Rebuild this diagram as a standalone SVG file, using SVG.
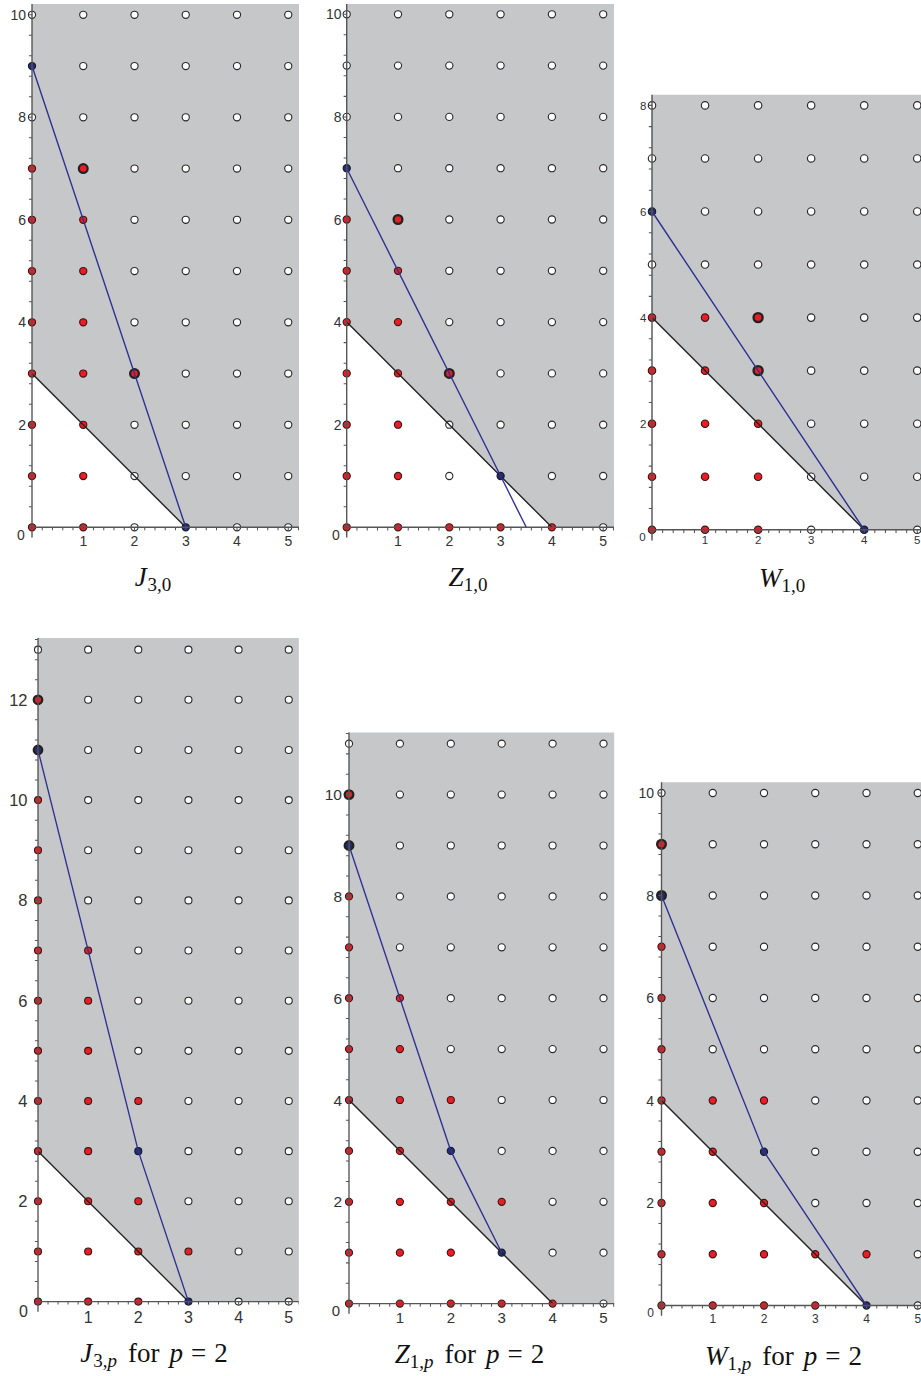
<svg xmlns="http://www.w3.org/2000/svg" width="921" height="1376" viewBox="0 0 921 1376">
<style>
.g{fill:#c6c7c9}
.w{fill:#fff;stroke:#2b2b2b;stroke-width:.022}
.r{fill:#ec1c24;stroke:#3a1616;stroke-width:.022}
.b{fill:#262d6e;stroke:#161a30;stroke-width:.022}
.rb{fill:#ec1c24;stroke:#222;stroke-width:.045}
.bb{fill:#262d6e;stroke:#222;stroke-width:.045}
.k{stroke:#222;stroke-width:.027;fill:none}
.bl{stroke:#2e3192;stroke-width:.027;fill:none}
.ax{stroke:#555;stroke-width:.027;fill:none}
.ty{stroke:#555;fill:none;stroke-width:.06;stroke-dasharray:.02 .38;stroke-dashoffset:.01}
.tx{stroke:#555;fill:none;stroke-width:.06;stroke-dasharray:.02 .18;stroke-dashoffset:.01}
.lb{font-family:"Liberation Sans",Arial,sans-serif;fill:#333}
.cap{font-family:"Liberation Serif","Times New Roman",serif;font-size:27px;fill:#111}
.it{font-style:italic}
</style>
<rect width="921" height="1376" fill="#fff"/>

<!-- Panel 1: J_{3,0} -->
<g id="panel-J30">
<g transform="translate(32 527.3) scale(51.25 -51.25)">
<polygon class="g" points="0,3 3,0 5.21,0 5.21,10.21 0,10.21"/>
<g id="dots-J30">
<circle class="w" cx="0" cy="10" r=".07"/><circle class="b" cx="0" cy="9" r=".07"/><circle class="w" cx="0" cy="8" r=".07"/><circle class="r" cx="0" cy="7" r=".07"/><circle class="r" cx="0" cy="6" r=".07"/><circle class="r" cx="0" cy="5" r=".07"/><circle class="r" cx="0" cy="4" r=".07"/><circle class="r" cx="0" cy="3" r=".07"/><circle class="r" cx="0" cy="2" r=".07"/><circle class="r" cx="0" cy="1" r=".07"/><circle class="r" cx="0" cy="0" r=".07"/>
<circle class="w" cx="1" cy="10" r=".07"/><circle class="w" cx="1" cy="9" r=".07"/><circle class="w" cx="1" cy="8" r=".07"/><circle class="rb" cx="1" cy="7" r=".085"/><circle class="r" cx="1" cy="6" r=".07"/><circle class="r" cx="1" cy="5" r=".07"/><circle class="r" cx="1" cy="4" r=".07"/><circle class="r" cx="1" cy="3" r=".07"/><circle class="r" cx="1" cy="2" r=".07"/><circle class="r" cx="1" cy="1" r=".07"/><circle class="r" cx="1" cy="0" r=".07"/>
<circle class="w" cx="2" cy="10" r=".07"/><circle class="w" cx="2" cy="9" r=".07"/><circle class="w" cx="2" cy="8" r=".07"/><circle class="w" cx="2" cy="7" r=".07"/><circle class="w" cx="2" cy="6" r=".07"/><circle class="w" cx="2" cy="5" r=".07"/><circle class="w" cx="2" cy="4" r=".07"/><circle class="rb" cx="2" cy="3" r=".085"/><circle class="w" cx="2" cy="2" r=".07"/><circle class="w" cx="2" cy="1" r=".07"/><circle class="w" cx="2" cy="0" r=".07"/>
<circle class="w" cx="3" cy="10" r=".07"/><circle class="w" cx="3" cy="9" r=".07"/><circle class="w" cx="3" cy="8" r=".07"/><circle class="w" cx="3" cy="7" r=".07"/><circle class="w" cx="3" cy="6" r=".07"/><circle class="w" cx="3" cy="5" r=".07"/><circle class="w" cx="3" cy="4" r=".07"/><circle class="w" cx="3" cy="3" r=".07"/><circle class="w" cx="3" cy="2" r=".07"/><circle class="w" cx="3" cy="1" r=".07"/><circle class="b" cx="3" cy="0" r=".07"/>
<circle class="w" cx="4" cy="10" r=".07"/><circle class="w" cx="4" cy="9" r=".07"/><circle class="w" cx="4" cy="8" r=".07"/><circle class="w" cx="4" cy="7" r=".07"/><circle class="w" cx="4" cy="6" r=".07"/><circle class="w" cx="4" cy="5" r=".07"/><circle class="w" cx="4" cy="4" r=".07"/><circle class="w" cx="4" cy="3" r=".07"/><circle class="w" cx="4" cy="2" r=".07"/><circle class="w" cx="4" cy="1" r=".07"/><circle class="w" cx="4" cy="0" r=".07"/>
<circle class="w" cx="5" cy="10" r=".07"/><circle class="w" cx="5" cy="9" r=".07"/><circle class="w" cx="5" cy="8" r=".07"/><circle class="w" cx="5" cy="7" r=".07"/><circle class="w" cx="5" cy="6" r=".07"/><circle class="w" cx="5" cy="5" r=".07"/><circle class="w" cx="5" cy="4" r=".07"/><circle class="w" cx="5" cy="3" r=".07"/><circle class="w" cx="5" cy="2" r=".07"/><circle class="w" cx="5" cy="1" r=".07"/><circle class="w" cx="5" cy="0" r=".07"/>
</g>
<g id="lines-J30">
<line class="k" x1="0" y1="3" x2="3" y2="0"/>
<line class="bl" x1="0" y1="9" x2="3" y2="0"/>
</g>
<line class="ax" x1="0" y1="-0.2" x2="0" y2="10.21"/>
<line class="ax" x1="-0.06" y1="0" x2="5.21" y2="0"/>
<line class="ty" x1="-0.03" y1="0" x2="-0.03" y2="10.21"/>
<line class="tx" x1="0" y1="-0.03" x2="5.21" y2="-0.03"/>
</g>
<g class="lb" font-size="14" text-anchor="end">
<text x="26" y="20">10</text><text x="26" y="122.4">8</text><text x="26" y="224.9">6</text><text x="26" y="327.4">4</text><text x="26" y="429.9">2</text>
</g>
<g class="lb" font-size="14" text-anchor="middle">
<text x="21" y="539.5">0</text><text x="83.3" y="545.5">1</text><text x="134.5" y="545.5">2</text><text x="185.8" y="545.5">3</text><text x="237" y="545.5">4</text><text x="288.3" y="545.5">5</text>
</g>
<text class="cap" x="153" y="586" text-anchor="middle"><tspan class="it">J</tspan><tspan font-size="19" dy="5" dx="1">3,0</tspan></text>
</g>

<!-- Panel 2: Z_{1,0} -->
<g id="panel-Z10">
<g transform="translate(346.7 527.3) scale(51.3 -51.3)">
<polygon class="g" points="0,4 4,0 5.21,0 5.21,10.2 0,10.2"/>
<g id="dots-Z10">
<circle class="w" cx="0" cy="10" r=".07"/><circle class="w" cx="0" cy="9" r=".07"/><circle class="w" cx="0" cy="8" r=".07"/><circle class="b" cx="0" cy="7" r=".07"/><circle class="r" cx="0" cy="6" r=".07"/><circle class="r" cx="0" cy="5" r=".07"/><circle class="r" cx="0" cy="4" r=".07"/><circle class="r" cx="0" cy="3" r=".07"/><circle class="r" cx="0" cy="2" r=".07"/><circle class="r" cx="0" cy="1" r=".07"/><circle class="r" cx="0" cy="0" r=".07"/>
<circle class="w" cx="1" cy="10" r=".07"/><circle class="w" cx="1" cy="9" r=".07"/><circle class="w" cx="1" cy="8" r=".07"/><circle class="w" cx="1" cy="7" r=".07"/><circle class="rb" cx="1" cy="6" r=".085"/><circle class="r" cx="1" cy="5" r=".07"/><circle class="r" cx="1" cy="4" r=".07"/><circle class="r" cx="1" cy="3" r=".07"/><circle class="r" cx="1" cy="2" r=".07"/><circle class="r" cx="1" cy="1" r=".07"/><circle class="r" cx="1" cy="0" r=".07"/>
<circle class="w" cx="2" cy="10" r=".07"/><circle class="w" cx="2" cy="9" r=".07"/><circle class="w" cx="2" cy="8" r=".07"/><circle class="w" cx="2" cy="7" r=".07"/><circle class="w" cx="2" cy="6" r=".07"/><circle class="w" cx="2" cy="5" r=".07"/><circle class="w" cx="2" cy="4" r=".07"/><circle class="rb" cx="2" cy="3" r=".085"/><circle class="w" cx="2" cy="2" r=".07"/><circle class="w" cx="2" cy="1" r=".07"/><circle class="r" cx="2" cy="0" r=".07"/>
<circle class="w" cx="3" cy="10" r=".07"/><circle class="w" cx="3" cy="9" r=".07"/><circle class="w" cx="3" cy="8" r=".07"/><circle class="w" cx="3" cy="7" r=".07"/><circle class="w" cx="3" cy="6" r=".07"/><circle class="w" cx="3" cy="5" r=".07"/><circle class="w" cx="3" cy="4" r=".07"/><circle class="w" cx="3" cy="3" r=".07"/><circle class="w" cx="3" cy="2" r=".07"/><circle class="b" cx="3" cy="1" r=".07"/><circle class="r" cx="3" cy="0" r=".07"/>
<circle class="w" cx="4" cy="10" r=".07"/><circle class="w" cx="4" cy="9" r=".07"/><circle class="w" cx="4" cy="8" r=".07"/><circle class="w" cx="4" cy="7" r=".07"/><circle class="w" cx="4" cy="6" r=".07"/><circle class="w" cx="4" cy="5" r=".07"/><circle class="w" cx="4" cy="4" r=".07"/><circle class="w" cx="4" cy="3" r=".07"/><circle class="w" cx="4" cy="2" r=".07"/><circle class="w" cx="4" cy="1" r=".07"/><circle class="r" cx="4" cy="0" r=".07"/>
<circle class="w" cx="5" cy="10" r=".07"/><circle class="w" cx="5" cy="9" r=".07"/><circle class="w" cx="5" cy="8" r=".07"/><circle class="w" cx="5" cy="7" r=".07"/><circle class="w" cx="5" cy="6" r=".07"/><circle class="w" cx="5" cy="5" r=".07"/><circle class="w" cx="5" cy="4" r=".07"/><circle class="w" cx="5" cy="3" r=".07"/><circle class="w" cx="5" cy="2" r=".07"/><circle class="w" cx="5" cy="1" r=".07"/><circle class="w" cx="5" cy="0" r=".07"/>
</g>
<g id="lines-Z10">
<line class="k" x1="0" y1="4" x2="4" y2="0"/>
<line class="bl" x1="0" y1="7" x2="3.5" y2="0"/>
</g>
<line class="ax" x1="0" y1="-0.2" x2="0" y2="10.2"/>
<line class="ax" x1="-0.06" y1="0" x2="5.21" y2="0"/>
<line class="ty" x1="-0.03" y1="0" x2="-0.03" y2="10.2"/>
<line class="tx" x1="0" y1="-0.03" x2="5.21" y2="-0.03"/>
</g>
<g class="lb" font-size="14" text-anchor="end">
<text x="341.5" y="19.3">10</text><text x="341.5" y="121.9">8</text><text x="341.5" y="224.5">6</text><text x="341.5" y="327.1">4</text><text x="341.5" y="429.7">2</text>
</g>
<g class="lb" font-size="14" text-anchor="middle">
<text x="336" y="539.5">0</text><text x="398" y="545.5">1</text><text x="449.3" y="545.5">2</text><text x="500.6" y="545.5">3</text><text x="551.9" y="545.5">4</text><text x="603.2" y="545.5">5</text>
</g>
<text class="cap" x="468" y="586" text-anchor="middle"><tspan class="it">Z</tspan><tspan font-size="19" dy="5">1,0</tspan></text>
</g>

<!-- Panel 3: W_{1,0} -->
<g id="panel-W10">
<g transform="translate(652 529.8) scale(53.05 -53.05)">
<polygon class="g" points="0,4 4,0 5.3,0 5.3,8.2 0,8.2"/>
<g id="dots-W10">
<circle class="w" cx="0" cy="8" r=".07"/><circle class="w" cx="0" cy="7" r=".07"/><circle class="b" cx="0" cy="6" r=".07"/><circle class="w" cx="0" cy="5" r=".07"/><circle class="r" cx="0" cy="4" r=".07"/><circle class="r" cx="0" cy="3" r=".07"/><circle class="r" cx="0" cy="2" r=".07"/><circle class="r" cx="0" cy="1" r=".07"/><circle class="r" cx="0" cy="0" r=".07"/>
<circle class="w" cx="1" cy="8" r=".07"/><circle class="w" cx="1" cy="7" r=".07"/><circle class="w" cx="1" cy="6" r=".07"/><circle class="w" cx="1" cy="5" r=".07"/><circle class="r" cx="1" cy="4" r=".07"/><circle class="r" cx="1" cy="3" r=".07"/><circle class="r" cx="1" cy="2" r=".07"/><circle class="r" cx="1" cy="1" r=".07"/><circle class="r" cx="1" cy="0" r=".07"/>
<circle class="w" cx="2" cy="8" r=".07"/><circle class="w" cx="2" cy="7" r=".07"/><circle class="w" cx="2" cy="6" r=".07"/><circle class="w" cx="2" cy="5" r=".07"/><circle class="rb" cx="2" cy="4" r=".085"/><circle class="rb" cx="2" cy="3" r=".085"/><circle class="r" cx="2" cy="2" r=".07"/><circle class="r" cx="2" cy="1" r=".07"/><circle class="r" cx="2" cy="0" r=".07"/>
<circle class="w" cx="3" cy="8" r=".07"/><circle class="w" cx="3" cy="7" r=".07"/><circle class="w" cx="3" cy="6" r=".07"/><circle class="w" cx="3" cy="5" r=".07"/><circle class="w" cx="3" cy="4" r=".07"/><circle class="w" cx="3" cy="3" r=".07"/><circle class="w" cx="3" cy="2" r=".07"/><circle class="w" cx="3" cy="1" r=".07"/><circle class="w" cx="3" cy="0" r=".07"/>
<circle class="w" cx="4" cy="8" r=".07"/><circle class="w" cx="4" cy="7" r=".07"/><circle class="w" cx="4" cy="6" r=".07"/><circle class="w" cx="4" cy="5" r=".07"/><circle class="w" cx="4" cy="4" r=".07"/><circle class="w" cx="4" cy="3" r=".07"/><circle class="w" cx="4" cy="2" r=".07"/><circle class="w" cx="4" cy="1" r=".07"/><circle class="b" cx="4" cy="0" r=".07"/>
<circle class="w" cx="5" cy="8" r=".07"/><circle class="w" cx="5" cy="7" r=".07"/><circle class="w" cx="5" cy="6" r=".07"/><circle class="w" cx="5" cy="5" r=".07"/><circle class="w" cx="5" cy="4" r=".07"/><circle class="w" cx="5" cy="3" r=".07"/><circle class="w" cx="5" cy="2" r=".07"/><circle class="w" cx="5" cy="1" r=".07"/><circle class="w" cx="5" cy="0" r=".07"/>
</g>
<g id="lines-W10">
<line class="k" x1="0" y1="4" x2="4" y2="0"/>
<line class="bl" x1="0" y1="6" x2="4" y2="0"/>
</g>
<line class="ax" x1="0" y1="-0.2" x2="0" y2="8.2"/>
<line class="ax" x1="-0.06" y1="0" x2="5.3" y2="0"/>
<line class="ty" x1="-0.03" y1="0" x2="-0.03" y2="8.2"/>
<line class="tx" x1="0" y1="-0.03" x2="5.3" y2="-0.03"/>
</g>
<g class="lb" font-size="11.5" text-anchor="end">
<text x="646.5" y="109.5">8</text><text x="646.5" y="215.6">6</text><text x="646.5" y="321.7">4</text><text x="646.5" y="427.8">2</text>
</g>
<g class="lb" font-size="11.5" text-anchor="middle">
<text x="642.5" y="540.5">0</text><text x="705" y="543.5">1</text><text x="758.1" y="543.5">2</text><text x="811.2" y="543.5">3</text><text x="864.2" y="543.5">4</text><text x="917.3" y="543.5">5</text>
</g>
<text class="cap" x="782" y="587" text-anchor="middle"><tspan class="it">W</tspan><tspan font-size="19" dy="5">1,0</tspan></text>
</g>

<!-- Panel 4: J_{3,p}, p=2 -->
<g id="panel-J3p">
<g transform="translate(38 1301.6) scale(50.15 -50.15)">
<polygon class="g" points="0,3 3,0 5.2,0 5.2,13.23 0,13.23"/>
<g id="dots-J3p">
<circle class="w" cx="0" cy="13" r=".07"/><circle class="rb" cx="0" cy="12" r=".085"/><circle class="bb" cx="0" cy="11" r=".085"/><circle class="r" cx="0" cy="10" r=".07"/><circle class="r" cx="0" cy="9" r=".07"/><circle class="r" cx="0" cy="8" r=".07"/><circle class="r" cx="0" cy="7" r=".07"/><circle class="r" cx="0" cy="6" r=".07"/><circle class="r" cx="0" cy="5" r=".07"/><circle class="r" cx="0" cy="4" r=".07"/><circle class="r" cx="0" cy="3" r=".07"/><circle class="r" cx="0" cy="2" r=".07"/><circle class="r" cx="0" cy="1" r=".07"/><circle class="r" cx="0" cy="0" r=".07"/>
<circle class="w" cx="1" cy="13" r=".07"/><circle class="w" cx="1" cy="12" r=".07"/><circle class="w" cx="1" cy="11" r=".07"/><circle class="w" cx="1" cy="10" r=".07"/><circle class="w" cx="1" cy="9" r=".07"/><circle class="w" cx="1" cy="8" r=".07"/><circle class="r" cx="1" cy="7" r=".07"/><circle class="r" cx="1" cy="6" r=".07"/><circle class="r" cx="1" cy="5" r=".07"/><circle class="r" cx="1" cy="4" r=".07"/><circle class="r" cx="1" cy="3" r=".07"/><circle class="r" cx="1" cy="2" r=".07"/><circle class="r" cx="1" cy="1" r=".07"/><circle class="r" cx="1" cy="0" r=".07"/>
<circle class="w" cx="2" cy="13" r=".07"/><circle class="w" cx="2" cy="12" r=".07"/><circle class="w" cx="2" cy="11" r=".07"/><circle class="w" cx="2" cy="10" r=".07"/><circle class="w" cx="2" cy="9" r=".07"/><circle class="w" cx="2" cy="8" r=".07"/><circle class="w" cx="2" cy="7" r=".07"/><circle class="w" cx="2" cy="6" r=".07"/><circle class="w" cx="2" cy="5" r=".07"/><circle class="r" cx="2" cy="4" r=".07"/><circle class="b" cx="2" cy="3" r=".07"/><circle class="r" cx="2" cy="2" r=".07"/><circle class="r" cx="2" cy="1" r=".07"/><circle class="r" cx="2" cy="0" r=".07"/>
<circle class="w" cx="3" cy="13" r=".07"/><circle class="w" cx="3" cy="12" r=".07"/><circle class="w" cx="3" cy="11" r=".07"/><circle class="w" cx="3" cy="10" r=".07"/><circle class="w" cx="3" cy="9" r=".07"/><circle class="w" cx="3" cy="8" r=".07"/><circle class="w" cx="3" cy="7" r=".07"/><circle class="w" cx="3" cy="6" r=".07"/><circle class="w" cx="3" cy="5" r=".07"/><circle class="w" cx="3" cy="4" r=".07"/><circle class="w" cx="3" cy="3" r=".07"/><circle class="w" cx="3" cy="2" r=".07"/><circle class="r" cx="3" cy="1" r=".07"/><circle class="b" cx="3" cy="0" r=".07"/>
<circle class="w" cx="4" cy="13" r=".07"/><circle class="w" cx="4" cy="12" r=".07"/><circle class="w" cx="4" cy="11" r=".07"/><circle class="w" cx="4" cy="10" r=".07"/><circle class="w" cx="4" cy="9" r=".07"/><circle class="w" cx="4" cy="8" r=".07"/><circle class="w" cx="4" cy="7" r=".07"/><circle class="w" cx="4" cy="6" r=".07"/><circle class="w" cx="4" cy="5" r=".07"/><circle class="w" cx="4" cy="4" r=".07"/><circle class="w" cx="4" cy="3" r=".07"/><circle class="w" cx="4" cy="2" r=".07"/><circle class="w" cx="4" cy="1" r=".07"/><circle class="w" cx="4" cy="0" r=".07"/>
<circle class="w" cx="5" cy="13" r=".07"/><circle class="w" cx="5" cy="12" r=".07"/><circle class="w" cx="5" cy="11" r=".07"/><circle class="w" cx="5" cy="10" r=".07"/><circle class="w" cx="5" cy="9" r=".07"/><circle class="w" cx="5" cy="8" r=".07"/><circle class="w" cx="5" cy="7" r=".07"/><circle class="w" cx="5" cy="6" r=".07"/><circle class="w" cx="5" cy="5" r=".07"/><circle class="w" cx="5" cy="4" r=".07"/><circle class="w" cx="5" cy="3" r=".07"/><circle class="w" cx="5" cy="2" r=".07"/><circle class="w" cx="5" cy="1" r=".07"/><circle class="w" cx="5" cy="0" r=".07"/>
</g>
<g id="lines-J3p">
<line class="k" x1="0" y1="3" x2="3" y2="0"/>
<polyline class="bl" points="0,11 2,3 3,0"/>
</g>
<line class="ax" x1="0" y1="-0.2" x2="0" y2="13.23"/>
<line class="ax" x1="-0.06" y1="0" x2="5.2" y2="0"/>
<line class="ty" x1="-0.03" y1="0" x2="-0.03" y2="13.23"/>
<line class="tx" x1="0" y1="-0.03" x2="5.2" y2="-0.03"/>
</g>
<g class="lb" font-size="16.5" text-anchor="end">
<text x="27.5" y="705.7">12</text><text x="27.5" y="806">10</text><text x="27.5" y="906.3">8</text><text x="27.5" y="1006.6">6</text><text x="27.5" y="1106.9">4</text><text x="27.5" y="1207.2">2</text>
</g>
<g class="lb" font-size="16" text-anchor="middle">
<text x="23.5" y="1317">0</text><text x="88.2" y="1323">1</text><text x="138.3" y="1323">2</text><text x="188.5" y="1323">3</text><text x="238.6" y="1323">4</text><text x="288.8" y="1323">5</text>
</g>
<text class="cap" x="154" y="1362" text-anchor="middle"><tspan class="it">J</tspan><tspan font-size="19" dy="5" dx="1">3,<tspan class="it">p</tspan></tspan><tspan dy="-5" dx="11">for</tspan><tspan class="it" dx="10">p</tspan><tspan dx="8">=</tspan><tspan dx="8">2</tspan></text>
</g>

<!-- Panel 5: Z_{1,p}, p=2 -->
<g id="panel-Z1p">
<g transform="translate(349 1303.6) scale(50.9 -50.9)">
<polygon class="g" points="0,4 4,0 5.21,0 5.21,11.22 0,11.22"/>
<g id="dots-Z1p">
<circle class="w" cx="0" cy="11" r=".07"/><circle class="rb" cx="0" cy="10" r=".085"/><circle class="bb" cx="0" cy="9" r=".085"/><circle class="r" cx="0" cy="8" r=".07"/><circle class="r" cx="0" cy="7" r=".07"/><circle class="r" cx="0" cy="6" r=".07"/><circle class="r" cx="0" cy="5" r=".07"/><circle class="r" cx="0" cy="4" r=".07"/><circle class="r" cx="0" cy="3" r=".07"/><circle class="r" cx="0" cy="2" r=".07"/><circle class="r" cx="0" cy="1" r=".07"/><circle class="r" cx="0" cy="0" r=".07"/>
<circle class="w" cx="1" cy="11" r=".07"/><circle class="w" cx="1" cy="10" r=".07"/><circle class="w" cx="1" cy="9" r=".07"/><circle class="w" cx="1" cy="8" r=".07"/><circle class="w" cx="1" cy="7" r=".07"/><circle class="r" cx="1" cy="6" r=".07"/><circle class="r" cx="1" cy="5" r=".07"/><circle class="r" cx="1" cy="4" r=".07"/><circle class="r" cx="1" cy="3" r=".07"/><circle class="r" cx="1" cy="2" r=".07"/><circle class="r" cx="1" cy="1" r=".07"/><circle class="r" cx="1" cy="0" r=".07"/>
<circle class="w" cx="2" cy="11" r=".07"/><circle class="w" cx="2" cy="10" r=".07"/><circle class="w" cx="2" cy="9" r=".07"/><circle class="w" cx="2" cy="8" r=".07"/><circle class="w" cx="2" cy="7" r=".07"/><circle class="w" cx="2" cy="6" r=".07"/><circle class="w" cx="2" cy="5" r=".07"/><circle class="r" cx="2" cy="4" r=".07"/><circle class="b" cx="2" cy="3" r=".07"/><circle class="r" cx="2" cy="2" r=".07"/><circle class="r" cx="2" cy="1" r=".07"/><circle class="r" cx="2" cy="0" r=".07"/>
<circle class="w" cx="3" cy="11" r=".07"/><circle class="w" cx="3" cy="10" r=".07"/><circle class="w" cx="3" cy="9" r=".07"/><circle class="w" cx="3" cy="8" r=".07"/><circle class="w" cx="3" cy="7" r=".07"/><circle class="w" cx="3" cy="6" r=".07"/><circle class="w" cx="3" cy="5" r=".07"/><circle class="w" cx="3" cy="4" r=".07"/><circle class="w" cx="3" cy="3" r=".07"/><circle class="r" cx="3" cy="2" r=".07"/><circle class="b" cx="3" cy="1" r=".07"/><circle class="r" cx="3" cy="0" r=".07"/>
<circle class="w" cx="4" cy="11" r=".07"/><circle class="w" cx="4" cy="10" r=".07"/><circle class="w" cx="4" cy="9" r=".07"/><circle class="w" cx="4" cy="8" r=".07"/><circle class="w" cx="4" cy="7" r=".07"/><circle class="w" cx="4" cy="6" r=".07"/><circle class="w" cx="4" cy="5" r=".07"/><circle class="w" cx="4" cy="4" r=".07"/><circle class="w" cx="4" cy="3" r=".07"/><circle class="w" cx="4" cy="2" r=".07"/><circle class="w" cx="4" cy="1" r=".07"/><circle class="r" cx="4" cy="0" r=".07"/>
<circle class="w" cx="5" cy="11" r=".07"/><circle class="w" cx="5" cy="10" r=".07"/><circle class="w" cx="5" cy="9" r=".07"/><circle class="w" cx="5" cy="8" r=".07"/><circle class="w" cx="5" cy="7" r=".07"/><circle class="w" cx="5" cy="6" r=".07"/><circle class="w" cx="5" cy="5" r=".07"/><circle class="w" cx="5" cy="4" r=".07"/><circle class="w" cx="5" cy="3" r=".07"/><circle class="w" cx="5" cy="2" r=".07"/><circle class="w" cx="5" cy="1" r=".07"/><circle class="w" cx="5" cy="0" r=".07"/>
</g>
<g id="lines-Z1p">
<line class="k" x1="0" y1="4" x2="4" y2="0"/>
<polyline class="bl" points="0,9 2,3 3,1"/>
</g>
<line class="ax" x1="0" y1="-0.2" x2="0" y2="11.22"/>
<line class="ax" x1="-0.06" y1="0" x2="5.21" y2="0"/>
<line class="ty" x1="-0.03" y1="0" x2="-0.03" y2="11.22"/>
<line class="tx" x1="0" y1="-0.03" x2="5.21" y2="-0.03"/>
</g>
<g class="lb" font-size="15.5" text-anchor="end">
<text x="342" y="800.2">10</text><text x="342" y="902">8</text><text x="342" y="1003.8">6</text><text x="342" y="1105.6">4</text><text x="342" y="1207.4">2</text>
</g>
<g class="lb" font-size="15" text-anchor="middle">
<text x="336" y="1316">0</text><text x="399.9" y="1323">1</text><text x="450.8" y="1323">2</text><text x="501.7" y="1323">3</text><text x="552.6" y="1323">4</text><text x="603.5" y="1323">5</text>
</g>
<text class="cap" x="469.5" y="1363" text-anchor="middle"><tspan class="it">Z</tspan><tspan font-size="19" dy="5">1,<tspan class="it">p</tspan></tspan><tspan dy="-5" dx="11">for</tspan><tspan class="it" dx="10">p</tspan><tspan dx="8">=</tspan><tspan dx="8">2</tspan></text>
</g>

<!-- Panel 6: W_{1,p}, p=2 -->
<g id="panel-W1p">
<g transform="translate(661.5 1305.5) scale(51.25 -51.25)">
<polygon class="g" points="0,4 4,0 5.2,0 5.2,10.21 0,10.21"/>
<g id="dots-W1p">
<circle class="w" cx="0" cy="10" r=".07"/><circle class="rb" cx="0" cy="9" r=".085"/><circle class="bb" cx="0" cy="8" r=".085"/><circle class="r" cx="0" cy="7" r=".07"/><circle class="r" cx="0" cy="6" r=".07"/><circle class="r" cx="0" cy="5" r=".07"/><circle class="r" cx="0" cy="4" r=".07"/><circle class="r" cx="0" cy="3" r=".07"/><circle class="r" cx="0" cy="2" r=".07"/><circle class="r" cx="0" cy="1" r=".07"/><circle class="r" cx="0" cy="0" r=".07"/>
<circle class="w" cx="1" cy="10" r=".07"/><circle class="w" cx="1" cy="9" r=".07"/><circle class="w" cx="1" cy="8" r=".07"/><circle class="w" cx="1" cy="7" r=".07"/><circle class="w" cx="1" cy="6" r=".07"/><circle class="w" cx="1" cy="5" r=".07"/><circle class="r" cx="1" cy="4" r=".07"/><circle class="r" cx="1" cy="3" r=".07"/><circle class="r" cx="1" cy="2" r=".07"/><circle class="r" cx="1" cy="1" r=".07"/><circle class="r" cx="1" cy="0" r=".07"/>
<circle class="w" cx="2" cy="10" r=".07"/><circle class="w" cx="2" cy="9" r=".07"/><circle class="w" cx="2" cy="8" r=".07"/><circle class="w" cx="2" cy="7" r=".07"/><circle class="w" cx="2" cy="6" r=".07"/><circle class="w" cx="2" cy="5" r=".07"/><circle class="r" cx="2" cy="4" r=".07"/><circle class="b" cx="2" cy="3" r=".07"/><circle class="r" cx="2" cy="2" r=".07"/><circle class="r" cx="2" cy="1" r=".07"/><circle class="r" cx="2" cy="0" r=".07"/>
<circle class="w" cx="3" cy="10" r=".07"/><circle class="w" cx="3" cy="9" r=".07"/><circle class="w" cx="3" cy="8" r=".07"/><circle class="w" cx="3" cy="7" r=".07"/><circle class="w" cx="3" cy="6" r=".07"/><circle class="w" cx="3" cy="5" r=".07"/><circle class="w" cx="3" cy="4" r=".07"/><circle class="w" cx="3" cy="3" r=".07"/><circle class="w" cx="3" cy="2" r=".07"/><circle class="r" cx="3" cy="1" r=".07"/><circle class="r" cx="3" cy="0" r=".07"/>
<circle class="w" cx="4" cy="10" r=".07"/><circle class="w" cx="4" cy="9" r=".07"/><circle class="w" cx="4" cy="8" r=".07"/><circle class="w" cx="4" cy="7" r=".07"/><circle class="w" cx="4" cy="6" r=".07"/><circle class="w" cx="4" cy="5" r=".07"/><circle class="w" cx="4" cy="4" r=".07"/><circle class="w" cx="4" cy="3" r=".07"/><circle class="w" cx="4" cy="2" r=".07"/><circle class="r" cx="4" cy="1" r=".07"/><circle class="b" cx="4" cy="0" r=".07"/>
<circle class="w" cx="5" cy="10" r=".07"/><circle class="w" cx="5" cy="9" r=".07"/><circle class="w" cx="5" cy="8" r=".07"/><circle class="w" cx="5" cy="7" r=".07"/><circle class="w" cx="5" cy="6" r=".07"/><circle class="w" cx="5" cy="5" r=".07"/><circle class="w" cx="5" cy="4" r=".07"/><circle class="w" cx="5" cy="3" r=".07"/><circle class="w" cx="5" cy="2" r=".07"/><circle class="w" cx="5" cy="1" r=".07"/><circle class="w" cx="5" cy="0" r=".07"/>
</g>
<g id="lines-W1p">
<line class="k" x1="0" y1="4" x2="4" y2="0"/>
<polyline class="bl" points="0,8 2,3 4,0"/>
</g>
<line class="ax" x1="0" y1="-0.2" x2="0" y2="10.21"/>
<line class="ax" x1="-0.06" y1="0" x2="5.2" y2="0"/>
<line class="ty" x1="-0.03" y1="0" x2="-0.03" y2="10.21"/>
<line class="tx" x1="0" y1="-0.03" x2="5.2" y2="-0.03"/>
</g>
<g class="lb" font-size="14" text-anchor="end">
<text x="654" y="798">10</text><text x="654" y="900.5">8</text><text x="654" y="1003">6</text><text x="654" y="1105.5">4</text><text x="654" y="1208">2</text>
</g>
<g class="lb" font-size="12" text-anchor="middle">
<text x="650.5" y="1316.5">0</text><text x="712.8" y="1323">1</text><text x="764" y="1323">2</text><text x="815.3" y="1323">3</text><text x="866.5" y="1323">4</text><text x="917.8" y="1323">5</text>
</g>
<text class="cap" x="783.5" y="1365" text-anchor="middle"><tspan class="it">W</tspan><tspan font-size="19" dy="5">1,<tspan class="it">p</tspan></tspan><tspan dy="-5" dx="11">for</tspan><tspan class="it" dx="10">p</tspan><tspan dx="8">=</tspan><tspan dx="8">2</tspan></text>
</g>
</svg>
